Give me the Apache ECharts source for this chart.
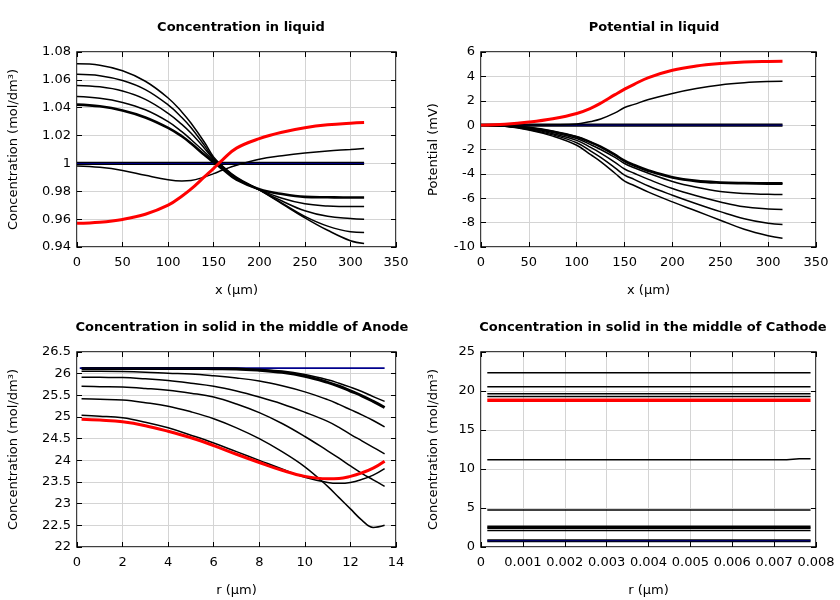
<!DOCTYPE html>
<html><head><meta charset="utf-8">
<script src="https://cdn.jsdelivr.net/npm/echarts@6/dist/echarts.min.js"></script>
<style>html,body{margin:0;padding:0;background:#fff}#c{width:840px;height:600px}</style>
</head><body><div id="c"></div>
<script>
// ---------- Plot 1: Concentration in liquid ----------
const liqX = [0,25,50,75,100,115,125,140,150,160,175,200,225,250,275,300,315];
const liqA = [1.0715,1.0705,1.0665,1.059,1.047,1.037,1.029,1.015,1.0045,0.998,0.9902,0.981,0.971,0.961,0.952,0.9445,0.9425];
const liqB = [1.064,1.063,1.0595,1.053,1.042,1.033,1.0258,1.0128,1.0035,0.9975,0.9897,0.981,0.9715,0.962,0.955,0.951,0.9505];
const liqC = [1.056,1.055,1.052,1.046,1.036,1.028,1.0218,1.0108,1.0028,0.997,0.9892,0.981,0.973,0.966,0.962,0.9605,0.960];
const liqD = [1.048,1.0468,1.0438,1.0385,1.030,1.0228,1.0172,1.0082,1.0018,0.9965,0.9888,0.9812,0.975,0.971,0.9695,0.969,0.969];
const liqE = [1.0422,1.041,1.038,1.033,1.0255,1.0195,1.0145,1.006,1.0008,0.9958,0.9883,0.9815,0.978,0.976,0.9757,0.9755,0.9755];
const liqF = [0.9982,0.9972,0.995,0.9915,0.9883,0.9874,0.9877,0.9903,0.9927,0.9953,0.9987,1.003,1.0055,1.0075,1.009,1.0100,1.0107];
const liqRed = [0.957,0.9578,0.9598,0.9635,0.970,0.9765,0.9815,0.9905,0.9965,1.0028,1.011,1.0178,1.0224,1.0256,1.0277,1.0289,1.0293];
const liqBlueX = [0, 315];
const liqBlue = [1, 1];

// ---------- Plot 2: Potential in liquid ----------
const potX = liqX;
const potRed = [0,0.08,0.25,0.52,0.95,1.4,1.8,2.5,2.95,3.35,3.9,4.5,4.85,5.05,5.17,5.23,5.25];
const potUp = [0,0,0.01,0.03,0.1,0.3,0.5,1.0,1.45,1.7,2.1,2.6,3.0,3.3,3.48,3.58,3.6];
const potL1 = [0,-0.06,-0.2,-0.5,-0.95,-1.4,-1.75,-2.4,-2.9,-3.25,-3.7,-4.25,-4.55,-4.68,-4.73,-4.75,-4.75];
const potL1b = [0,-0.06,-0.21,-0.52,-0.98,-1.45,-1.8,-2.47,-2.97,-3.33,-3.78,-4.32,-4.62,-4.75,-4.8,-4.83,-4.84];
const potL2 = [0,-0.07,-0.25,-0.6,-1.1,-1.62,-2.0,-2.65,-3.15,-3.5,-3.95,-4.62,-5.1,-5.45,-5.62,-5.68,-5.7];
const potL3 = [0,-0.08,-0.3,-0.7,-1.25,-1.85,-2.3,-3.05,-3.6,-3.95,-4.45,-5.2,-5.8,-6.3,-6.7,-6.88,-6.93];
const potL4 = [0,-0.09,-0.35,-0.8,-1.45,-2.15,-2.65,-3.5,-4.1,-4.45,-5.0,-5.75,-6.45,-7.1,-7.68,-8.06,-8.16];
const potL5 = [0,-0.1,-0.4,-0.9,-1.65,-2.45,-3.0,-3.95,-4.6,-4.95,-5.5,-6.3,-7.05,-7.8,-8.55,-9.08,-9.28];
const potBlueX = [0, 315];
const potBlue = [0, 0];

// ---------- Plot 3: Anode solid ----------
const anoR = [0.2,1,2,3,4,5,6,7,8,9,10,11,11.5,12,12.5,13,13.5];
const anoT  = [26.12,26.12,26.12,26.12,26.12,26.12,26.115,26.11,26.08,26.03,25.94,25.8,25.71,25.6,25.49,25.36,25.22];
const anoC2 = [26.13,26.13,26.13,26.13,26.13,26.13,26.13,26.125,26.1,26.06,25.98,25.86,25.78,25.69,25.59,25.47,25.36];
const anoC3 = [26.055,26.055,26.05,26.035,26.01,25.99,25.95,25.9,25.83,25.72,25.58,25.4,25.29,25.17,25.05,24.92,24.77];
const anoC4 = [25.92,25.915,25.91,25.88,25.84,25.78,25.71,25.6,25.46,25.3,25.11,24.9,24.76,24.6,24.45,24.3,24.15];
const anoC5 = [25.71,25.7,25.69,25.66,25.62,25.55,25.46,25.3,25.1,24.85,24.55,24.22,24.05,23.87,23.7,23.55,23.4];
const anoC6 = [25.42,25.41,25.39,25.33,25.25,25.12,24.96,24.75,24.5,24.2,23.85,23.4,23.14,22.88,22.62,22.45,22.5];
const anoC7 = [25.04,25.02,24.98,24.88,24.75,24.58,24.4,24.2,24.0,23.8,23.61,23.49,23.47,23.49,23.56,23.66,23.81];
const anoRed = [24.95,24.93,24.89,24.8,24.67,24.52,24.34,24.14,23.95,23.77,23.63,23.575,23.58,23.63,23.71,23.82,23.98];
const anoBlueR = [0.12, 13.5];
const anoBlue = [26.13, 26.13];

// ---------- Plot 4: Cathode solid ----------
const catR = [0.00015, 0.00787];
const cat1 = [22.35, 22.35];
const cat2 = [20.55, 20.55];
const cat3 = [19.65, 19.65];
const cat4 = [19.3, 19.3];
const catRed = [18.8, 18.8];
const cat5R = [0.00015, 0.0073, 0.0076, 0.00787];
const cat5 = [11.18, 11.18, 11.32, 11.32];
const cat6 = [4.75, 4.75];
const cat7 = [2.62, 2.62];
const cat8 = [2.45, 2.45];
const cat9 = [2.12, 2.12];
const catBlue = [0.8, 0.8];

// ---------- Tick settings ----------
const ticks = [
  {xmin:0, xmax:350, xint:50, ymin:0.94, ymax:1.08, yint:0.02},
  {xmin:0, xmax:350, xint:50, ymin:-10, ymax:6, yint:2},
  {xmin:0, xmax:14, xint:2, ymin:22, ymax:26.5, yint:0.5},
  {xmin:0, xmax:0.008, xint:0.001, ymin:0, ymax:25, yint:5}
];
const titles = ['Concentration in liquid','Potential in liquid','Concentration in solid in the middle of Anode','Concentration in solid in the middle of Cathode'];
const xNames = ['x (μm)','x (μm)','r (μm)','r (μm)'];
const yNames = ['Concentration (mol/dm³)','Potential (mV)','Concentration (mol/dm³)','Concentration (mol/dm³)'];

const FONT = 'DejaVu Sans';
const grids = [
  {left:77, top:52, width:319, height:195},
  {left:481, top:52, width:335, height:195},
  {left:77, top:352, width:319, height:195},
  {left:481, top:352, width:335, height:195}
];
const titlePos = [[236,16],[649,16],[237,316],[648,316]];
const yGap = [57,41,57,41];

const xAxes = [], yAxes = [];
grids.forEach((g, i) => {
  const t = ticks[i];
  const tick = {inside:true, length:5, lineStyle:{color:'#000', width:1}};
  xAxes.push({
    type:'value', gridIndex:i, position:'bottom', min:t.xmin, max:t.xmax, interval:t.xint,
    name:xNames[i], nameLocation:'middle', nameGap:37,
    nameTextStyle:{fontFamily:FONT, fontSize:13, color:'#000'},
    axisLine:{show:false, onZero:false}, axisTick:tick,
    axisLabel:{fontFamily:FONT, fontSize:13, color:'#000', margin:9},
    splitLine:{show:true, lineStyle:{color:'#d4d4d4', width:1}}
  });
  xAxes.push({
    type:'value', gridIndex:i, position:'top', min:t.xmin, max:t.xmax, interval:t.xint,
    axisLine:{show:false, onZero:false}, axisTick:tick,
    axisLabel:{show:false}, splitLine:{show:false}
  });
  yAxes.push({
    type:'value', gridIndex:i, position:'left', min:t.ymin, max:t.ymax, interval:t.yint,
    name:yNames[i], nameLocation:'middle', nameGap:yGap[i],
    nameTextStyle:{fontFamily:FONT, fontSize:13, color:'#000'},
    axisLine:{show:false, onZero:false}, axisTick:tick,
    axisLabel:{fontFamily:FONT, fontSize:13, color:'#000', margin:6},
    splitLine:{show:true, lineStyle:{color:'#d4d4d4', width:1}}
  });
  yAxes.push({
    type:'value', gridIndex:i, position:'right', min:t.ymin, max:t.ymax, interval:t.yint,
    axisLine:{show:false, onZero:false}, axisTick:tick,
    axisLabel:{show:false}, splitLine:{show:false}
  });
});

function line(gi, xs, ys, color, width, z, smooth) {
  return {
    type:'line', xAxisIndex:gi*2, yAxisIndex:gi*2,
    data: xs.map((x, k) => [x, ys[k]]),
    symbol:'none', showSymbol:false, silent:true,
    smooth: smooth === undefined ? 0.4 : smooth,
    lineStyle:{color:color, width:width}, z:z, animation:false
  };
}
const BLK = '#000', RED = '#ff0000', BLU = '#00008c';
const series = [
  // plot 1
  line(0, liqBlueX, liqBlue, BLK, 3.2, 2, false),
  line(0, liqBlueX, liqBlue, BLU, 1, 3, false),
  line(0, liqX, liqA, BLK, 1.5, 4),
  line(0, liqX, liqB, BLK, 1.5, 4),
  line(0, liqX, liqC, BLK, 1.5, 4),
  line(0, liqX, liqD, BLK, 1.5, 4),
  line(0, liqX, liqE, BLK, 2.6, 4),
  line(0, liqX, liqF, BLK, 1.5, 4),
  line(0, liqX, liqRed, RED, 3, 5),
  // plot 2
  line(1, potBlueX, potBlue, BLK, 3.2, 2, false),
  line(1, potBlueX, potBlue, BLU, 1, 3, false),
  line(1, potX, potUp, BLK, 1.5, 4),
  line(1, potX, potL1, BLK, 2, 4),
  line(1, potX, potL1b, BLK, 2, 4),
  line(1, potX, potL2, BLK, 1.5, 4),
  line(1, potX, potL3, BLK, 1.5, 4),
  line(1, potX, potL4, BLK, 1.5, 4),
  line(1, potX, potL5, BLK, 1.5, 4),
  line(1, potX, potRed, RED, 3, 5),
  // plot 3
  line(2, anoR, anoT, BLK, 3, 2),
  line(2, anoBlueR, anoBlue, BLU, 1.8, 3, false),
  line(2, anoR, anoC2, BLK, 1.5, 4),
  line(2, anoR, anoC3, BLK, 1.5, 4),
  line(2, anoR, anoC4, BLK, 1.5, 4),
  line(2, anoR, anoC5, BLK, 1.5, 4),
  line(2, anoR, anoC6, BLK, 1.5, 4),
  line(2, anoR, anoC7, BLK, 1.5, 4),
  line(2, anoR, anoRed, RED, 3, 5),
  // plot 4
  line(3, catR, cat1, BLK, 1.5, 4, false),
  line(3, catR, cat2, BLK, 1.5, 4, false),
  line(3, catR, cat3, BLK, 1.5, 4, false),
  line(3, catR, cat4, BLK, 1.5, 4, false),
  line(3, catR, catRed, RED, 3.5, 5, false),
  line(3, cat5R, cat5, BLK, 1.5, 4, false),
  line(3, catR, cat6, BLK, 1.5, 4, false),
  line(3, catR, cat7, BLK, 2, 4, false),
  line(3, catR, cat8, BLK, 2, 4, false),
  line(3, catR, cat9, BLK, 1.5, 4, false),
  line(3, catR, catBlue, BLK, 3.2, 2, false),
  line(3, catR, catBlue, BLU, 1, 3, false)
];

const chart = echarts.init(document.getElementById('c'), null, {renderer:'canvas'});
chart.setOption({
  backgroundColor:'#fff',
  animation:false,
  title: titles.map((t, i) => ({
    text:t, left:titlePos[i][0], top:titlePos[i][1], textAlign:'center',
    textStyle:{fontFamily:FONT, fontSize:13, fontWeight:'bold', color:'#000'}
  })),
  grid: grids.map(g => Object.assign({show:true, borderColor:'#000', borderWidth:1.5, backgroundColor:'transparent'}, g)),
  xAxis: xAxes,
  yAxis: yAxes,
  series: series
});
</script></body></html>
